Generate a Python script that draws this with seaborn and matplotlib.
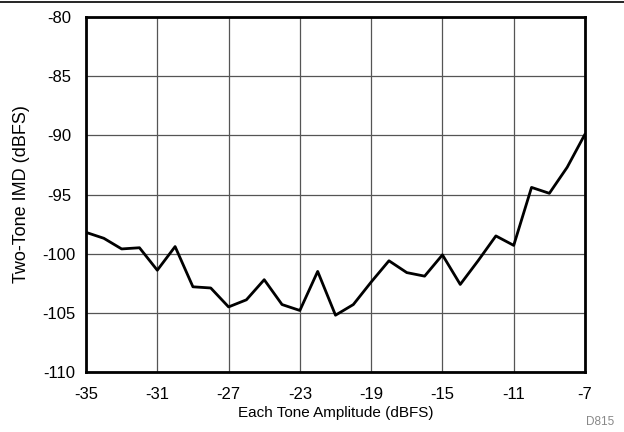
import matplotlib
matplotlib.use("Agg")
import matplotlib.pyplot as plt
import numpy as np
import pandas as pd
import seaborn as sns

# Two-tone IMD versus each-tone amplitude
amplitude_dbfs = list(range(-35, -6))
imd_dbfs = [-98.2, -98.7, -99.6, -99.5, -101.4, -99.4, -102.8, -102.9, -104.5, -103.9,
            -102.2, -104.3, -104.8, -101.5, -105.2, -104.3, -102.4, -100.6, -101.6, -101.9,
            -100.1, -102.6, -100.6, -98.5, -99.3, -94.4, -94.9, -92.7, -89.9]
x_ticks = [-35, -31, -27, -23, -19, -15, -11, -7]
y_ticks = [-110, -105, -100, -95, -90, -85, -80]

df = pd.DataFrame({"amp": amplitude_dbfs, "imd": imd_dbfs})

sns.set_theme(style="white")
plt.rcParams["font.family"] = ["Liberation Sans", "DejaVu Sans"]

fig = plt.figure(figsize=(6.24, 4.32), dpi=100)
ax = fig.add_axes([86 / 624, 1 - 372 / 432, 499 / 624, 355 / 432])

sns.lineplot(data=df, x="amp", y="imd", ax=ax, color="black", linewidth=2.0)

ax.set_xlim(-35, -7)
ax.set_ylim(-110, -80)
ax.set_xticks(x_ticks)
ax.set_yticks(y_ticks)
ax.set_xticklabels([str(v) for v in x_ticks])
ax.set_yticklabels([str(v) for v in y_ticks], ha="center")
ax.tick_params(axis="both", labelsize=12, length=0, colors="black")
ax.tick_params(axis="x", pad=11)
ax.tick_params(axis="y", pad=19.5)
ax.grid(True, color="#555555", linewidth=0.9)
ax.set_axisbelow(True)
for side in ax.spines.values():
    side.set_visible(True)
    side.set_color("black")
    side.set_linewidth(2.0)

ax.set_xlabel("Each Tone Amplitude (dBFS)", fontsize=11, color="black", labelpad=2.5)
ax.set_ylabel("Two-Tone IMD (dBFS)", fontsize=13, color="black", labelpad=9)

# Rule across the top of the figure and the figure code
fig.add_artist(plt.Line2D([0, 1], [1 - 2 / 432, 1 - 2 / 432], color="black", linewidth=1.2,
                          transform=fig.transFigure))
fig.text(614 / 624, 1 - 422 / 432, "D815", fontsize=8.5, color="#888888",
         ha="right", va="center")

fig.savefig("out.png", dpi=100)
